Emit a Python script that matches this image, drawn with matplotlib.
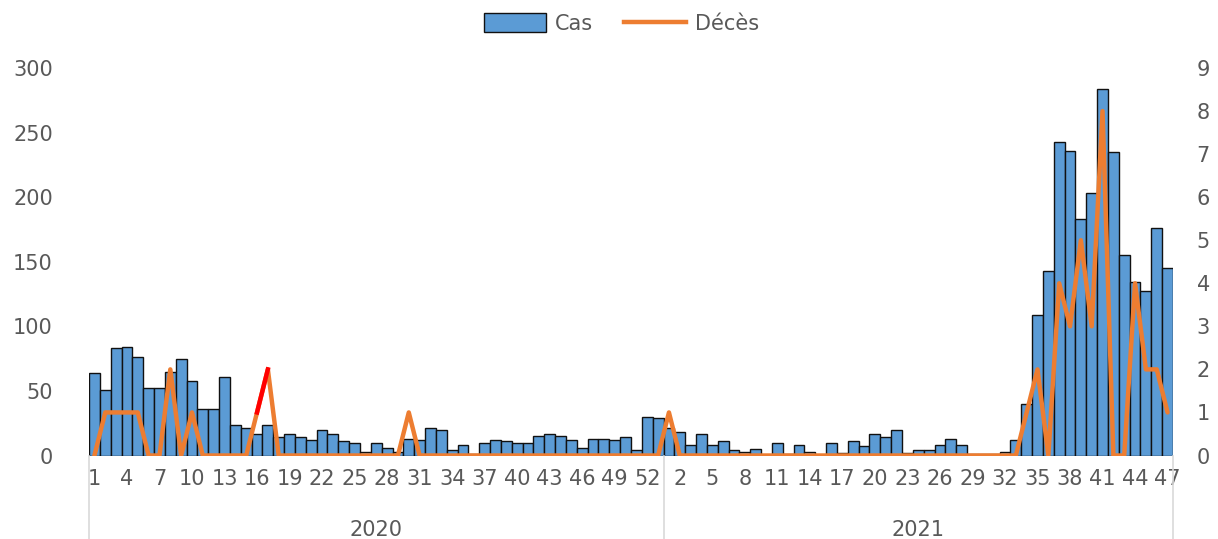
import matplotlib
matplotlib.use("Agg")
import matplotlib.pyplot as plt
from matplotlib.lines import Line2D
from matplotlib.patches import Patch
import numpy as np

# ---- data ----
years = ["2020", "2021"]
weeks_2020 = list(range(1, 54))
weeks_2021 = list(range(1, 48))

cas_2020 = [64, 51, 83, 84, 76, 52, 52, 65, 75, 58,
            36, 36, 61, 24, 21, 17, 24, 14, 17, 14,
            12, 20, 17, 11, 10, 3, 10, 6, 3, 13,
            12, 21, 20, 4, 8, 1, 10, 12, 11, 10,
            10, 15, 17, 15, 12, 6, 13, 13, 12, 14,
            4, 30, 29]
cas_2021 = [21, 18, 8, 17, 8, 11, 4, 3, 5, 0,
            10, 1, 8, 3, 0, 10, 2, 11, 7, 17,
            14, 20, 2, 4, 4, 8, 13, 8, 1, 1,
            1, 3, 12, 40, 109, 143, 243, 236, 183, 203,
            284, 235, 155, 134, 127, 176, 145]

deces_2020 = [0, 1, 1, 1, 1, 0, 0, 2, 0, 1,
              0, 0, 0, 0, 0, 1, 2, 0, 0, 0,
              0, 0, 0, 0, 0, 0, 0, 0, 0, 1,
              0, 0, 0, 0, 0, 0, 0, 0, 0, 0,
              0, 0, 0, 0, 0, 0, 0, 0, 0, 0,
              0, 0, 0]
deces_2021 = [1, 0, 0, 0, 0, 0, 0, 0, 0, 0,
              0, 0, 0, 0, 0, 0, 0, 0, 0, 0,
              0, 0, 0, 0, 0, 0, 0, 0, 0, 0,
              0, 0, 0, 1, 2, 0, 4, 3, 5, 3,
              8, 0, 0, 4, 2, 2, 1]

highlight_week_2020 = (16, 17)  # segment drawn in red

# ---- build ----
weeks = weeks_2020 + weeks_2021
cas = cas_2020 + cas_2021
deces = deces_2020 + deces_2021
x = np.arange(len(weeks))
n20 = len(weeks_2020)

grey = "#595959"
blue = "#5B9BD5"
orange = "#ED7D31"
fs = 15
lw = 3.2

plt.rcParams['font.family'] = ['DejaVu Sans']

fig = plt.figure(figsize=(12.18, 5.39), dpi=100)
ax = fig.add_axes([89/1218, (539-455.5)/539, (1173-89)/1218, (455.5-68)/539])
ax.bar(x, cas, width=1.0, color=blue, edgecolor="#111111", linewidth=1.0, zorder=2)
ax.set_xlim(-0.5, len(weeks) - 0.5)
ax.set_ylim(0, 300)
ax.set_yticks(np.arange(0, 301, 50))
ax.tick_params(axis='y', length=0, pad=26, labelsize=fs, labelcolor=grey)

tick_idx = list(range(0, len(weeks), 3))
ax.set_xticks(tick_idx)
ax.set_xticklabels([str(weeks[i]) for i in tick_idx])
ax.tick_params(axis='x', length=0, pad=10, labelsize=fs, labelcolor=grey)
for s in ax.spines.values():
    s.set_visible(False)

ax2 = ax.twinx()
ax2.plot(x, deces, color=orange, linewidth=lw, solid_joinstyle='round',
         solid_capstyle='round', zorder=3)
i0 = weeks_2020.index(highlight_week_2020[0])
i1 = weeks_2020.index(highlight_week_2020[1])
ax2.plot(x[i0:i1+1], deces[i0:i1+1], color="#FF0000", linewidth=lw, zorder=4)
ax2.set_ylim(0, 9)
ax2.set_yticks(np.arange(0, 10, 1))
ax2.tick_params(axis='y', length=0, pad=17, labelsize=fs, labelcolor=grey)
for s in ax2.spines.values():
    s.set_visible(False)

# group separators and year labels
trans = ax.get_xaxis_transform()
for xv in [-0.5, n20 - 0.5, len(weeks) - 0.5]:
    ax.plot([xv, xv], [0, -0.22], transform=trans, color="#D9D9D9",
            linewidth=1.2, clip_on=False)
ax.text((n20 - 1) / 2, -0.192, years[0], transform=trans, ha='center', va='center',
        fontsize=fs, color=grey)
ax.text(n20 + (len(weeks_2021) - 1) / 2, -0.192, years[1], transform=trans,
        ha='center', va='center', fontsize=fs, color=grey)

handles = [Patch(facecolor=blue, edgecolor="#111111", linewidth=1.0),
           Line2D([0], [0], color=orange, linewidth=lw)]
fig.legend(handles, ["Cas", "Décès"], loc='upper center', bbox_to_anchor=(0.51, 1.01),
           ncol=2, frameon=False, fontsize=fs, labelcolor=grey,
           handlelength=3.0, handleheight=1.0, columnspacing=1.5, handletextpad=0.4)

fig.savefig("out.png", dpi=100)
